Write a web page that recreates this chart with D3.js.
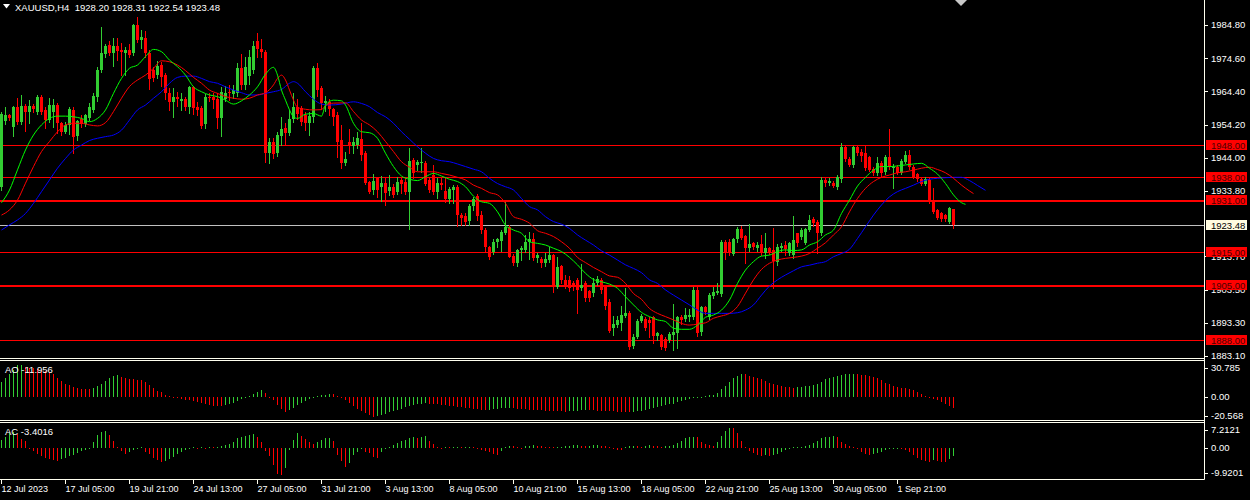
<!DOCTYPE html>
<html>
<head>
<meta charset="utf-8">
<script src="https://cdn.jsdelivr.net/npm/d3@7"></script>
<style>
  body { margin: 0; background: #000; }
  svg { display: block; }
  text { font-family: Tahoma, "Liberation Sans", Arial, sans-serif; fill: #fff; white-space: pre; }
</style>
</head>
<body>
<div id="chart"></div>
<script>
// XAUUSD H4 candles, one value per bar (bar 0 = 12 Jul 2023)
const opens = [
  1935.1, 1955.3, 1957.1, 1953.6, 1959.6, 1955.1, 1959.9, 1958.2, 1959.9, 1958.2,
  1962.6, 1958.7, 1955.6, 1958.0, 1960.2, 1954.6, 1952.0, 1954.0, 1958.7, 1950.7,
  1955.8, 1954.4, 1956.1, 1958.7, 1962.6, 1971.0, 1976.0, 1978.8, 1976.1, 1978.3,
  1977.0, 1976.3, 1977.1, 1976.3, 1984.8, 1980.2, 1980.7, 1976.1, 1971.0, 1969.4,
  1972.5, 1969.4, 1963.8, 1961.2, 1962.8, 1961.4, 1962.2, 1959.7, 1965.6, 1959.7,
  1959.2, 1954.4, 1962.8, 1962.8, 1962.0, 1956.1, 1962.0, 1964.3, 1963.5, 1964.0,
  1971.5, 1966.4, 1969.0, 1971.0, 1980.0, 1977.5, 1976.5, 1945.4, 1948.9, 1945.4,
  1950.7, 1953.0, 1951.7, 1955.8, 1959.7, 1959.2, 1957.1, 1954.6, 1956.6, 1971.5,
  1965.3, 1960.7, 1961.0, 1958.9, 1957.1, 1949.5, 1942.5, 1949.0, 1947.6, 1948.0,
  1949.9, 1945.4, 1936.6, 1934.1, 1938.0, 1935.1, 1936.3, 1933.9, 1934.9, 1933.6,
  1937.2, 1936.6, 1933.6, 1943.3, 1941.8, 1942.3, 1942.5, 1937.2, 1938.7, 1933.6,
  1936.4, 1933.9, 1931.2, 1934.0, 1935.1, 1926.4, 1926.0, 1924.7, 1929.2, 1932.2,
  1926.4, 1921.8, 1916.5, 1915.1, 1918.2, 1918.5, 1921.0, 1922.8, 1913.8, 1911.8,
  1915.7, 1915.7, 1918.2, 1919.2, 1913.1, 1913.0, 1911.6, 1912.6, 1914.1, 1904.4,
  1910.7, 1906.6, 1906.4, 1905.4, 1906.4, 1904.0, 1905.4, 1903.2, 1902.5, 1905.6,
  1906.6, 1904.6, 1899.8, 1891.6, 1892.6, 1893.1, 1895.4, 1896.4, 1886.2, 1889.0,
  1893.9, 1894.4, 1894.2, 1895.0, 1889.2, 1889.5, 1888.2, 1888.0, 1889.5, 1890.3,
  1895.0, 1894.4, 1895.0, 1895.2, 1903.4, 1890.6, 1898.1, 1895.2, 1901.5, 1902.5,
  1902.3, 1918.2, 1918.2, 1914.4, 1918.9, 1922.0, 1919.9, 1916.2, 1917.9, 1916.2,
  1917.5, 1914.6, 1916.2, 1915.7, 1912.1, 1916.2, 1917.2, 1914.6, 1914.1, 1920.8,
  1919.6, 1917.9, 1921.8, 1925.1, 1924.4, 1920.8, 1937.2, 1936.3, 1936.4, 1935.1,
  1937.4, 1947.2, 1943.5, 1941.8, 1947.2, 1945.9, 1945.6, 1944.1, 1940.7, 1939.2,
  1942.5, 1939.7, 1944.3, 1940.8, 1941.3, 1939.4, 1942.8, 1944.9, 1941.3, 1939.0,
  1937.4, 1935.9, 1937.2, 1930.8, 1927.9, 1926.9, 1926.4, 1924.4, 1928.20
];
const highs = [
  1958.0, 1959.5, 1957.5, 1960.0, 1962.3, 1963.3, 1960.4, 1961.8, 1960.6, 1963.2,
  1963.3, 1959.5, 1962.3, 1962.0, 1960.8, 1955.0, 1955.0, 1959.5, 1959.7, 1955.6,
  1957.0, 1957.5, 1960.7, 1964.0, 1972.0, 1984.1, 1979.0, 1980.0, 1980.7, 1980.7,
  1979.2, 1978.1, 1979.0, 1985.1, 1987.2, 1983.3, 1983.0, 1977.0, 1972.0, 1973.8,
  1973.5, 1970.0, 1965.3, 1965.3, 1964.3, 1963.8, 1962.8, 1966.0, 1966.0, 1961.0,
  1960.0, 1963.5, 1964.0, 1964.0, 1963.8, 1965.6, 1966.0, 1966.4, 1966.4, 1973.0,
  1976.0, 1975.0, 1977.0, 1980.0, 1982.3, 1980.5, 1977.0, 1950.0, 1950.0, 1952.0,
  1956.6, 1954.6, 1958.7, 1963.8, 1962.2, 1960.0, 1958.0, 1958.0, 1972.2, 1973.0,
  1966.0, 1963.0, 1962.0, 1959.2, 1958.0, 1954.1, 1945.9, 1952.7, 1950.5, 1952.0,
  1954.6, 1946.0, 1937.0, 1939.0, 1938.2, 1938.4, 1938.2, 1938.6, 1936.0, 1938.0,
  1937.7, 1937.7, 1946.9, 1943.8, 1943.3, 1946.9, 1943.1, 1938.0, 1941.8, 1937.7,
  1937.7, 1938.0, 1935.1, 1935.6, 1935.6, 1927.0, 1927.0, 1929.8, 1931.8, 1932.8,
  1927.5, 1922.5, 1917.0, 1919.2, 1919.5, 1921.8, 1930.5, 1923.2, 1914.5, 1916.0,
  1917.0, 1920.3, 1921.3, 1920.8, 1914.6, 1913.4, 1914.8, 1916.7, 1914.5, 1913.4,
  1911.0, 1908.0, 1907.7, 1906.0, 1907.0, 1911.4, 1906.0, 1903.5, 1907.0, 1907.7,
  1907.0, 1905.0, 1900.5, 1895.4, 1895.4, 1898.4, 1903.9, 1897.0, 1890.0, 1894.4,
  1896.0, 1895.0, 1895.2, 1895.4, 1890.6, 1890.0, 1889.0, 1890.6, 1899.1, 1895.4,
  1895.7, 1897.7, 1897.4, 1904.2, 1904.6, 1898.5, 1898.5, 1902.5, 1904.2, 1905.6,
  1918.8, 1918.8, 1919.0, 1919.5, 1922.6, 1923.0, 1920.3, 1923.6, 1918.2, 1918.2,
  1920.3, 1920.8, 1916.7, 1922.3, 1917.5, 1917.7, 1918.5, 1918.2, 1926.1, 1921.0,
  1922.5, 1922.5, 1926.4, 1925.7, 1925.0, 1938.2, 1938.2, 1937.7, 1937.0, 1938.7,
  1948.4, 1947.9, 1944.1, 1947.7, 1947.6, 1946.6, 1947.6, 1944.5, 1941.2, 1944.3,
  1943.0, 1944.9, 1952.7, 1942.0, 1941.8, 1943.6, 1946.2, 1946.4, 1941.8, 1939.2,
  1937.7, 1938.0, 1937.7, 1934.6, 1928.3, 1927.3, 1926.6, 1928.8, 1928.31
];
const lows = [
  1934.0, 1954.5, 1955.5, 1950.7, 1954.5, 1954.5, 1952.3, 1954.6, 1958.0, 1957.5,
  1957.5, 1953.0, 1955.0, 1953.6, 1951.5, 1951.0, 1951.5, 1951.3, 1945.6, 1949.5,
  1953.5, 1953.8, 1955.5, 1958.0, 1961.5, 1970.5, 1975.0, 1975.5, 1972.2, 1974.0,
  1969.4, 1969.4, 1975.0, 1975.5, 1979.5, 1977.6, 1975.0, 1965.0, 1967.5, 1968.5,
  1966.0, 1962.0, 1958.7, 1956.6, 1960.0, 1958.7, 1958.7, 1957.7, 1957.5, 1957.0,
  1953.0, 1953.0, 1961.5, 1959.2, 1953.0, 1950.7, 1961.5, 1961.7, 1962.5, 1963.0,
  1965.0, 1965.0, 1966.6, 1970.0, 1975.0, 1975.0, 1942.8, 1942.5, 1944.0, 1944.5,
  1947.9, 1947.9, 1951.0, 1955.0, 1956.0, 1954.0, 1952.5, 1951.0, 1955.0, 1963.0,
  1959.0, 1958.5, 1957.1, 1954.1, 1944.3, 1941.0, 1941.8, 1945.4, 1945.4, 1947.0,
  1943.3, 1935.9, 1933.1, 1933.0, 1932.0, 1930.8, 1929.5, 1932.5, 1932.0, 1933.0,
  1933.1, 1933.0, 1922.0, 1937.7, 1940.2, 1939.7, 1935.5, 1933.5, 1933.0, 1931.5,
  1934.5, 1930.5, 1930.0, 1930.2, 1923.0, 1923.3, 1923.5, 1923.5, 1928.0, 1925.0,
  1921.0, 1915.5, 1913.0, 1914.5, 1916.5, 1915.5, 1920.5, 1913.4, 1911.0, 1910.7,
  1912.5, 1915.0, 1912.8, 1912.5, 1912.0, 1910.3, 1910.7, 1912.0, 1902.9, 1903.9,
  1905.5, 1904.0, 1903.0, 1903.5, 1896.4, 1903.5, 1900.0, 1900.0, 1901.5, 1905.0,
  1902.5, 1897.5, 1890.5, 1889.5, 1892.0, 1891.1, 1895.0, 1885.1, 1885.5, 1888.5,
  1893.5, 1891.0, 1889.0, 1887.0, 1888.0, 1885.4, 1885.0, 1887.5, 1884.9, 1885.5,
  1893.0, 1894.0, 1894.0, 1894.5, 1889.2, 1889.6, 1896.0, 1894.5, 1901.0, 1902.0,
  1901.5, 1913.0, 1914.0, 1914.0, 1918.0, 1919.0, 1911.8, 1915.5, 1916.0, 1915.5,
  1914.0, 1913.1, 1914.5, 1903.9, 1911.0, 1915.5, 1914.0, 1914.0, 1913.1, 1917.0,
  1919.0, 1917.5, 1921.5, 1923.0, 1914.6, 1920.3, 1935.3, 1935.5, 1935.0, 1934.5,
  1936.6, 1943.1, 1941.5, 1941.3, 1945.0, 1943.1, 1940.2, 1939.9, 1938.7, 1938.8,
  1938.5, 1939.0, 1940.5, 1934.6, 1939.0, 1939.0, 1942.5, 1940.7, 1937.7, 1936.9,
  1935.5, 1935.5, 1930.0, 1927.0, 1925.1, 1924.6, 1924.6, 1923.9, 1922.54
];
const closes = [
  1957.5, 1957.1, 1956.1, 1959.6, 1955.1, 1959.9, 1958.2, 1959.9, 1958.9, 1962.6,
  1958.2, 1955.6, 1960.2, 1960.2, 1954.6, 1952.0, 1954.0, 1958.9, 1950.5, 1955.4,
  1954.4, 1957.1, 1959.7, 1963.0, 1971.0, 1976.3, 1978.3, 1976.1, 1978.3, 1976.9,
  1976.5, 1977.1, 1975.6, 1984.8, 1980.2, 1981.0, 1976.3, 1968.1, 1968.4, 1972.2,
  1968.9, 1963.8, 1961.2, 1962.8, 1962.0, 1962.2, 1959.5, 1965.6, 1959.2, 1958.7,
  1953.8, 1962.8, 1962.3, 1961.9, 1956.1, 1964.3, 1964.0, 1963.8, 1964.8, 1971.5,
  1966.4, 1972.0, 1975.0, 1978.5, 1977.5, 1976.5, 1945.4, 1948.9, 1945.2, 1951.0,
  1952.7, 1951.7, 1955.8, 1959.7, 1957.6, 1955.1, 1954.8, 1956.9, 1971.5, 1964.8,
  1960.7, 1961.5, 1958.9, 1956.6, 1948.9, 1942.5, 1943.5, 1947.6, 1948.9, 1950.0,
  1944.9, 1936.2, 1933.6, 1937.0, 1934.0, 1936.3, 1933.1, 1935.1, 1932.6, 1936.7,
  1936.0, 1933.6, 1943.1, 1939.2, 1942.8, 1942.8, 1936.1, 1934.1, 1933.6, 1936.4,
  1935.6, 1931.2, 1934.3, 1935.1, 1926.4, 1925.4, 1924.3, 1929.2, 1931.2, 1926.1,
  1921.8, 1916.5, 1913.4, 1918.2, 1919.0, 1921.3, 1922.8, 1913.6, 1911.6, 1915.7,
  1916.2, 1918.2, 1919.2, 1913.1, 1914.1, 1911.6, 1912.8, 1914.1, 1904.4, 1910.5,
  1906.4, 1904.9, 1903.9, 1904.4, 1903.4, 1904.9, 1900.8, 1900.8, 1905.6, 1906.9,
  1903.4, 1898.4, 1890.9, 1892.9, 1894.1, 1895.7, 1896.2, 1885.9, 1889.0, 1893.9,
  1895.4, 1891.6, 1893.1, 1889.2, 1890.2, 1886.0, 1885.7, 1889.8, 1890.6, 1895.2,
  1894.2, 1895.7, 1895.7, 1903.4, 1890.1, 1898.1, 1896.7, 1901.8, 1902.8, 1903.0,
  1918.2, 1914.8, 1914.6, 1918.9, 1922.0, 1919.5, 1916.2, 1917.5, 1916.7, 1917.2,
  1914.6, 1916.2, 1915.2, 1912.4, 1916.7, 1916.9, 1916.0, 1917.7, 1918.7, 1917.9,
  1921.8, 1922.0, 1924.9, 1923.9, 1920.8, 1937.2, 1936.4, 1937.0, 1935.3, 1938.2,
  1947.4, 1943.5, 1941.8, 1947.2, 1945.4, 1944.5, 1940.8, 1940.4, 1939.2, 1942.5,
  1939.4, 1944.3, 1941.3, 1941.3, 1939.4, 1943.1, 1944.8, 1941.3, 1938.2, 1937.4,
  1935.9, 1937.4, 1930.5, 1927.4, 1925.4, 1925.1, 1925.1, 1928.5, 1923.48
];

// Alligator lines as [bar, price] (lines run past the last bar)
const lipsPoints = [
  [0,1930.2],[2,1934.1],[4,1940.3],[6,1946.4],[8,1951],[10,1954.1],[12,1956.1],[14,1956.8],[16,1956.8],[18,1956.6],
  [20,1956.1],[22,1955.1],[24,1956.1],[26,1958.7],[28,1963.8],[30,1968.4],[32,1971.5],[34,1972.5],[36,1975.1],[38,1977.3],
  [40,1976.6],[42,1974],[44,1972],[46,1969.4],[48,1965.8],[50,1964.3],[52,1963.3],[54,1962.8],[56,1961.7],[58,1960.5],
  [60,1961.5],[62,1963.3],[64,1965.8],[66,1969.7],[68,1971.8],[69,1969.4],[70,1964.8],[71,1961.7],[72,1958.7],[73,1956.6],
  [74,1956.1],[76,1957.4],[78,1957.6],[80,1956.8],[81,1960.2],[83,1961.7],[85,1961.5],[86,1960.2],[88,1954.6],[90,1952],
  [92,1951.7],[94,1950],[96,1945.4],[98,1941.3],[100,1938.4],[102,1937.4],[104,1937],[106,1938.2],[108,1939.2],[110,1938.4],
  [112,1937.4],[114,1936.7],[116,1935.1],[118,1932.2],[120,1930.5],[122,1930],[124,1927.4],[126,1923.3],[128,1921.8],[130,1920.8],
  [132,1918.2],[134,1917.7],[136,1917.2],[138,1916.2],[140,1915.2],[142,1913.4],[144,1911.1],[146,1908.5],[148,1906.6],[150,1905.9],
  [152,1905.2],[154,1903.9],[156,1901.3],[158,1898.8],[160,1896.5],[162,1895.2],[164,1894.2],[166,1893.7],[168,1891.6],[170,1891.3],
  [172,1891.3],[174,1892.6],[176,1895],[178,1895.7],[180,1897.2],[182,1900.3],[184,1905.4],[186,1909.5],[188,1912.1],[190,1913.8],
  [192,1914.1],[194,1915.2],[196,1915.7],[198,1915.5],[200,1915.7],[202,1917.2],[204,1918.2],[206,1920.3],[208,1921.8],[210,1926.9],
  [212,1931],[214,1935.3],[216,1938],[218,1940.2],[220,1941.3],[222,1941.3],[224,1941.5],[226,1941.8],[228,1942.1],[230,1942.3],
  [232,1940.8],[234,1939],[236,1936.1],[238,1932.6],[240,1930.2],[241,1929.7]
];
const teethPoints = [
  [0,1926.4],[2,1928],[4,1931],[6,1936.2],[8,1941.3],[10,1945.9],[12,1949],[14,1952],[16,1954.1],[18,1954.6],
  [20,1954.6],[22,1954.1],[24,1953.8],[26,1954.8],[28,1958.2],[30,1962.3],[32,1965.9],[34,1967.9],[36,1969.4],[38,1971.5],
  [40,1973.8],[42,1973.5],[44,1972.5],[46,1970.8],[48,1968.7],[50,1966.9],[52,1964.8],[54,1963.8],[56,1962.8],[58,1962.3],
  [60,1962],[62,1962.3],[64,1963.3],[66,1964],[68,1966.4],[69,1968.4],[70,1969.4],[71,1967.9],[72,1964.8],[73,1961.7],
  [74,1959.5],[76,1958.9],[78,1958.7],[80,1958.8],[81,1960],[83,1960.8],[86,1960.9],[88,1958.2],[90,1955.6],[92,1954.1],
  [94,1952],[96,1949],[98,1945.9],[100,1942.8],[102,1941.1],[104,1939.7],[106,1939.7],[108,1939.7],[110,1939.2],[112,1938.7],
  [114,1938],[116,1937.2],[118,1935.6],[120,1934.6],[122,1933.3],[124,1932.6],[126,1930],[128,1925.9],[130,1925.1],[132,1923.9],
  [134,1921.6],[136,1920.8],[138,1919.8],[140,1918.2],[142,1916.2],[144,1913.4],[146,1911.8],[148,1910.3],[150,1909],[152,1907.7],
  [154,1907.3],[156,1905.4],[158,1902.3],[160,1900.5],[162,1897.7],[164,1896.2],[166,1895.2],[168,1894.2],[170,1893.1],[172,1892.6],
  [174,1892.9],[176,1893.3],[178,1894.7],[180,1895.4],[182,1896.2],[184,1898.3],[186,1902.4],[188,1906.5],[190,1909.7],[192,1911.6],
  [194,1912.6],[196,1913.1],[198,1913.4],[200,1913.8],[202,1914.6],[204,1916.2],[206,1917.9],[208,1920.3],[210,1922.8],[212,1927.4],
  [214,1931.5],[216,1934.6],[218,1936.7],[220,1938],[222,1938.7],[224,1939.4],[226,1939.7],[228,1940.2],[230,1940.8],[232,1941.1],
  [234,1940.4],[236,1939.4],[238,1937.7],[240,1935.6],[242,1933.8],[243,1933]
];
const jawPoints = [
  [0,1921.8],[2,1923.4],[4,1924.9],[6,1926.9],[8,1930],[10,1933.6],[12,1937.2],[14,1940.8],[16,1943.8],[18,1946.4],
  [20,1947.9],[22,1949.3],[24,1950],[26,1950.5],[28,1951],[30,1952.5],[32,1955.6],[34,1958.7],[36,1960.2],[38,1962.3],
  [40,1964.3],[42,1966.9],[44,1968.7],[46,1969.1],[48,1969.1],[50,1968.4],[52,1967.4],[54,1966.9],[56,1965.8],[58,1964.8],
  [60,1964],[62,1963.3],[64,1963.3],[66,1963.8],[68,1964.3],[70,1965],[72,1966.9],[73,1967.4],[74,1966.9],[76,1964.3],
  [78,1962],[80,1960.5],[82,1960.2],[85,1960.5],[88,1961.2],[90,1960.7],[92,1959.7],[94,1957.9],[96,1956.6],[98,1954.6],
  [100,1952],[102,1949.7],[104,1947.4],[106,1945.4],[108,1943.8],[110,1943.1],[112,1942.8],[114,1942.1],[116,1941.3],[118,1940.5],
  [120,1939.7],[122,1937.7],[124,1936.1],[126,1935.1],[128,1934.1],[130,1931.5],[132,1929],[134,1928],[136,1925.9],[138,1924.4],
  [140,1923.6],[142,1922.3],[144,1920.3],[146,1918.7],[148,1917.2],[150,1915.4],[152,1914.1],[154,1912.6],[156,1911.1],[158,1910],
  [160,1908.7],[162,1906.5],[164,1905.4],[166,1903.4],[168,1901.8],[170,1900.3],[172,1898.8],[174,1897.2],[176,1896.2],[178,1896.2],
  [180,1896.2],[182,1896.2],[184,1896.4],[186,1897.2],[188,1898.8],[190,1901.8],[192,1904.6],[194,1906.5],[196,1908],[198,1909.3],
  [200,1910.5],[202,1911],[204,1911.6],[206,1912.1],[208,1913.6],[210,1914.6],[212,1915.9],[214,1919.2],[216,1922.8],[218,1926.4],
  [220,1929.5],[222,1932],[224,1933.6],[226,1934.6],[228,1935.6],[230,1936.7],[232,1937.4],[234,1937.7],[236,1937.9],[238,1938],
  [240,1938],[242,1937],[244,1935.5],[246,1934]
];

// Awesome Oscillator, one value per bar
const aoValues = [
  15.5, 20.5, 24.5, 29, 33.5, 34.5, 32, 31, 30.5, 30,
  29, 28, 26.5, 24, 20, 17, 14, 12, 10, 9,
  8.5, 8.2, 8, 9, 11.5, 14, 17, 20, 22, 23.5,
  21.5, 20, 19, 18.5, 18, 17.5, 15.5, 12.5, 9, 6.5,
  4.5, 2, 0.3, -1, -1.8, -2.5, -3.5, -4.2, -5, -6,
  -7, -8, -9, -9.8, -10, -10.2, -9.5, -8, -6.5, -4.5,
  -2.5, -0.5, 1, 2.5, 4.5, 7, 4, 0, -4, -9,
  -13, -16.5, -14, -12, -9, -6.5, -4.5, -2.5, -1, 0.5,
  1.5, 2.2, 3.3, 2.5, 1, -1.5, -4, -7, -10, -13,
  -15.5, -18, -20, -21.5, -21, -20, -18.5, -17, -15.5, -14.5,
  -13, -11.5, -10, -9, -8, -7.5, -7, -7.5, -8, -8.5,
  -9, -9.5, -10, -10.5, -11, -11.5, -12, -12.5, -13, -13.5,
  -14, -14.5, -14, -13.5, -13, -12.8, -12.5, -12.2, -12.5, -13,
  -13.3, -13.5, -14, -14.2, -14.5, -14.8, -15, -15.2, -15.5, -15.8,
  -16, -16.2, -15.8, -15.3, -15, -14.6, -14.2, -14.5, -14.8, -15,
  -15.3, -15.5, -15.8, -16, -16.2, -16.5, -16.8, -17, -16.5, -16,
  -15.2, -14.5, -13.5, -12.5, -11.5, -10.5, -9.5, -8.5, -7.5, -6.3,
  -5, -3.8, -2.5, -1.2, -0.5, 0.1, 0.8, 1.2, 1.8, 3.5,
  8, 11, 16, 20, 22.7, 24.5, 24, 22.5, 21, 20,
  18.5, 16.5, 15, 13.5, 12.5, 11.5, 10.5, 9.8, 9.5, 10,
  10.5, 11, 11.2, 12, 14, 16, 18.5, 20.5, 21.5, 22.5,
  23.5, 24, 24.5, 24.8, 24, 23.5, 23, 22, 21, 19.8,
  17.5, 15, 13.5, 11.8, 10.7, 9.7, 9, 8.2, 7.2, 5.3,
  2.4, 0.8, -0.2, -2.3, -4, -5.5, -8, -10, -11.956
];

// Accelerator Oscillator, one value per bar
const acValues = [
  3.0, 4.4, 5.7, 6.2, 5.3, 3.5, 2.8, -0.5, -1.5, -2.5,
  -3.2, -4.0, -4.5, -5.0, -5.2, -4.5, -4.0, -3.5, -3.0, -2.3,
  -1.5, -0.8, -0.2, 2.1, 5.1, 6.1, 6.7, 5.1, 2.7, 0.4,
  -1.3, -2.7, -1.6, -0.9, -0.3, 0.1, -1.6, -2.7, -4.0, -5.0,
  -5.9, -5.3, -4.5, -3.6, -2.7, -1.9, -0.9, -0.3, 0.3, -0.2,
  0.2, -0.2, 0.3, 0.1, 0.2, 0.8, 1.1, 1.3, 2.1, 4.0,
  4.4, 4.8, 5.1, 5.3, 4.4, 2.1, -1.2, -3.5, -7.0, -10.5,
  -11.0, -8.0, -1.0, 3.0, 5.7, 4.8, 3.6, 2.3, 1.5, 2.3,
  3.2, 3.8, 3.9, 2.5, -2.9, -5.5, -7.8, -6.3, -2.9, -1.6,
  -0.3, -1.6, -2.3, -3.6, -4.1, -1.9, -0.5, 0.3, 1.1, 1.7,
  2.7, 3.1, 3.7, 4.4, 3.7, 4.4, 4.8, 2.7, 1.3, 0.3,
  -0.3, 0.2, 0.1, 0.3, 0.4, 0.2, 0.3, 0.4, 0.2, -0.3,
  -0.8, -1.2, -1.8, -2.4, -2.9, -1.3, 0.3, 0.8, 0.6, 0.3,
  -0.2, 0.5, 0.8, 1.0, 0.6, 0.5, 0.3, 0.2, 0.1, 0.2,
  0.3, 0.5, 0.7, 0.9, 1.1, 0.8, 0.5, 0.6, 0.9, 1.1,
  0.8, 0.5, 0.3, -0.3, -0.8, -1.0, 0.3, 0.5, 0.8, 0.5,
  0.3, 0.6, 0.9, 0.7, 0.5, 0.4, 0.6, 0.8, 1.0, 1.7,
  2.7, 3.7, 4.3, 4.4, 4.3, 2.1, 1.6, 1.1, 0.8, 2.1,
  4.8, 6.7, 8.0, 7.8, 5.7, 2.7, 0.3, -1.2, -2.3, -3.0,
  -3.3, -3.0, -3.2, -3.0, -2.7, -1.6, -0.9, -0.5, 0.1, 0.3,
  0.4, 0.8, 1.1, 1.7, 2.7, 3.7, 4.1, 4.4, 4.8, 4.1,
  2.1, 1.3, 0.8, 0.4, -0.5, -1.6, -2.7, -2.9, -2.6, -2.3,
  -1.6, -0.9, -0.5, -0.3, 0.0, -0.3, -0.9, -1.6, -2.9, -4.3,
  -4.9, -5.3, -5.6, -5.0, -5.4, -5.6, -5.8, -4.5, -3.4016
];

// horizontal price levels drawn on the chart, and the bid
const levelPrices = [1948.00, 1938.00, 1931.00, 1915.00, 1905.00, 1888.00];
const bidPrice = 1923.48;

// axis labels
const priceTicks = [1984.80, 1974.60, 1964.40, 1954.20, 1944.00, 1933.80, 1913.70, 1903.50, 1893.30, 1883.10];
const aoTicks = ["30.785", "0.00", "-20.568"];
const acTicks = ["7.2121", "0.00", "-9.9201"];
const timeLabels = [
  "12 Jul 2023", "17 Jul 05:00", "19 Jul 21:00", "24 Jul 13:00", "27 Jul 05:00",
  "31 Jul 21:00", "3 Aug 13:00", "8 Aug 05:00", "10 Aug 21:00", "15 Aug 13:00",
  "18 Aug 05:00", "22 Aug 21:00", "25 Aug 13:00", "30 Aug 05:00", "1 Sep 21:00"
];
const barsPerTimeLabel = 16;

class TerminalChart {
  /**
   * Class constructor with initial configuration
   * @param {Object}
   */
  constructor(_config) {
    this.config = {
      parentElement: _config.parentElement,
      containerWidth: 1250,
      containerHeight: 500,
      plotRight: 1204,
      barStep: 4,
      bodyWidth: 3,
      main: { top: 0, bottom: 358 },
      ao: { top: 361, bottom: 420 },
      ac: { top: 423, bottom: 479 },
      bull: "#32cd32",
      bear: "#ff0000",
      frame: "#fffff0",
      thickLevels: [1931.0, 1905.0],
    };
    this.initVis();
  }

  initVis() {
    let vis = this;
    const cfg = vis.config;

    vis.svg = d3
      .select(cfg.parentElement)
      .append("svg")
      .attr("width", cfg.containerWidth)
      .attr("height", cfg.containerHeight)
      .style("background", "#000");

    // bar index -> left pixel column of the candle
    vis.xScale = d3.scaleLinear().domain([0, 1]).range([0, cfg.barStep]);

    vis.yPrice = d3.scaleLinear().domain([1883.10, 1984.80]).range([356, 25]);
    vis.yAO = d3.scaleLinear().domain([-20.568, 30.785]).range([415.7, 368]);
    vis.yAC = d3.scaleLinear().domain([-9.9201, 7.2121]).range([472.5, 429.7]);

    const defs = vis.svg.append("defs");
    [["clip-main", cfg.main], ["clip-ao", cfg.ao], ["clip-ac", cfg.ac]].forEach(([id, p]) => {
      defs.append("clipPath").attr("id", id)
        .append("rect")
        .attr("x", 0).attr("y", p.top)
        .attr("width", cfg.plotRight).attr("height", p.bottom - p.top);
    });

    vis.mainArea = vis.svg.append("g").attr("clip-path", "url(#clip-main)");
    vis.aoArea = vis.svg.append("g").attr("clip-path", "url(#clip-ao)");
    vis.acArea = vis.svg.append("g").attr("clip-path", "url(#clip-ac)");
    vis.axisArea = vis.svg.append("g");

    vis.updateVis();
  }

  updateVis() {
    let vis = this;

    vis.bars = closes.map((c, i) => ({
      i: i,
      o: opens[i],
      h: highs[i],
      l: lows[i],
      c: c,
    }));

    // histogram colour: green when the value rose against the previous bar
    const withColour = (arr) =>
      arr.map((v, i) => ({ i: i, v: v, up: i === 0 || v > arr[i - 1] }));
    vis.ao = withColour(aoValues);
    vis.ac = withColour(acValues);

    vis.renderVis();
  }

  renderVis() {
    let vis = this;
    const cfg = vis.config;
    const x = vis.xScale;
    const y = vis.yPrice;
    const last = vis.bars[vis.bars.length - 1];
    const py = (v) => Math.round(y(v));

    // horizontal levels and bid line sit under the candles
    vis.mainArea
      .selectAll(".level")
      .data(levelPrices)
      .join("rect")
      .attr("class", "level")
      .attr("x", 0)
      .attr("width", cfg.plotRight)
      .attr("y", (d) => py(d))
      .attr("height", (d) => (cfg.thickLevels.includes(d) ? 2 : 1))
      .attr("fill", "#ff0000");

    vis.mainArea
      .append("rect")
      .attr("x", 0)
      .attr("width", cfg.plotRight)
      .attr("y", py(bidPrice))
      .attr("height", 1)
      .attr("fill", "#c0c0c0");

    // candles: 1px wick, 3px body
    const candles = vis.mainArea.append("g").attr("shape-rendering", "crispEdges");
    const colour = (d) => (d.c >= d.o ? cfg.bull : cfg.bear);
    candles
      .selectAll(".wick")
      .data(vis.bars)
      .join("rect")
      .attr("class", "wick")
      .attr("x", (d) => x(d.i) + 1)
      .attr("width", 1)
      .attr("y", (d) => py(d.h))
      .attr("height", (d) => py(d.l) - py(d.h) + 1)
      .attr("fill", colour);

    candles
      .selectAll(".body")
      .data(vis.bars)
      .join("rect")
      .attr("class", "body")
      .attr("x", (d) => x(d.i))
      .attr("width", cfg.bodyWidth)
      .attr("y", (d) => py(Math.max(d.o, d.c)))
      .attr("height", (d) => Math.max(1, py(Math.min(d.o, d.c)) - py(Math.max(d.o, d.c))))
      .attr("fill", colour);

    // Alligator: jaw (blue), teeth (red), lips (lime)
    const line = d3
      .line()
      .x((d) => x(d[0]) + 1.5)
      .y((d) => y(d[1]))
      .curve(d3.curveMonotoneX);
    [
      [jawPoints, "#0000ff"],
      [teethPoints, "#ff0000"],
      [lipsPoints, "#00ff00"],
    ].forEach(([pts, stroke]) => {
      vis.mainArea
        .append("path")
        .datum(pts)
        .attr("d", line)
        .attr("fill", "none")
        .attr("stroke", stroke)
        .attr("stroke-width", 1);
    });

    // oscillator histograms, 1px columns
    const histogram = (area, data, scale) => {
      const zero = Math.round(scale(0));
      area
        .append("g")
        .attr("shape-rendering", "crispEdges")
        .selectAll("rect")
        .data(data)
        .join("rect")
        .attr("x", (d) => x(d.i) + 1)
        .attr("width", 1)
        .attr("y", (d) => Math.min(zero, Math.round(scale(d.v))))
        .attr("height", (d) => Math.max(1, Math.abs(Math.round(scale(d.v)) - zero)))
        .attr("fill", (d) => (d.up ? cfg.bull : cfg.bear));
    };
    histogram(vis.aoArea, vis.ao, vis.yAO);
    histogram(vis.acArea, vis.ac, vis.yAC);

    // pane frames
    const ax = vis.axisArea;
    [358.5, 360.5, 420.5, 422.5, 479.5].forEach((yy) => {
      ax.append("line")
        .attr("x1", 0).attr("x2", cfg.plotRight + 0.5)
        .attr("y1", yy).attr("y2", yy)
        .attr("stroke", cfg.frame).attr("stroke-width", 1);
    });
    ax.append("line")
      .attr("x1", cfg.plotRight + 0.5).attr("x2", cfg.plotRight + 0.5)
      .attr("y1", 0).attr("y2", 479.5)
      .attr("stroke", cfg.frame).attr("stroke-width", 1);

    // right price scale
    const rightTick = (yy, label) => {
      ax.append("line")
        .attr("x1", cfg.plotRight).attr("x2", cfg.plotRight + 4)
        .attr("y1", Math.round(yy) + 0.5).attr("y2", Math.round(yy) + 0.5)
        .attr("stroke", cfg.frame);
      ax.append("text")
        .attr("x", cfg.plotRight + 7)
        .attr("y", yy)
        .attr("dy", "0.35em")
        .style("font-size", "9.5px")
        .text(label);
    };
    priceTicks.forEach((p) => rightTick(y(p), p.toFixed(2)));
    aoTicks.forEach((t) => rightTick(vis.yAO(+t), t));
    acTicks.forEach((t) => rightTick(vis.yAC(+t), t));

    // level price tags
    const tag = (price, bg, fg) => {
      const yy = py(price);
      ax.append("rect")
        .attr("x", cfg.plotRight + 2).attr("y", yy - 5)
        .attr("width", 41).attr("height", 10)
        .attr("fill", bg);
      ax.append("text")
        .attr("x", cfg.plotRight + 7)
        .attr("y", yy + 0.5)
        .attr("dy", "0.35em")
        .style("font-size", "9.5px")
        .style("fill", fg)
        .text(price.toFixed(2));
    };
    levelPrices.forEach((p) => tag(p, "#ff0000", "#4a0000"));
    tag(bidPrice, "#fffbe0", "#000");

    // time axis
    timeLabels.forEach((label, k) => {
      const xx = x(k * barsPerTimeLabel) + 1.5;
      ax.append("line")
        .attr("x1", xx).attr("x2", xx)
        .attr("y1", 480).attr("y2", 484)
        .attr("stroke", cfg.frame);
      ax.append("text")
        .attr("x", xx)
        .attr("y", 492)
        .style("font-size", "9px")
        .text(label);
    });

    // header and sub-window captions
    ax.append("path")
      .attr("d", "M3,4 L10,4 L6.5,8.5 Z")
      .attr("fill", "#fff");
    ax.append("text")
      .attr("x", 15)
      .attr("y", 11)
      .style("font-size", "9.5px")
      .text(
        "XAUUSD,H4  " +
          [last.o, last.h, last.l, last.c].map((v) => v.toFixed(2)).join(" ")
      );
    ax.append("text")
      .attr("x", 5).attr("y", 373)
      .style("font-size", "9.5px")
      .text("AO " + aoValues[aoValues.length - 1].toFixed(3));
    ax.append("text")
      .attr("x", 5).attr("y", 435)
      .style("font-size", "9.5px")
      .text("AC " + acValues[acValues.length - 1].toFixed(4));

    // chart shift marker
    ax.append("path")
      .attr("d", "M955,0 L967,0 L961,6 Z")
      .attr("fill", "#c8c8c8");
  }
}

new TerminalChart({ parentElement: "#chart" });
</script>
</body>
</html>
